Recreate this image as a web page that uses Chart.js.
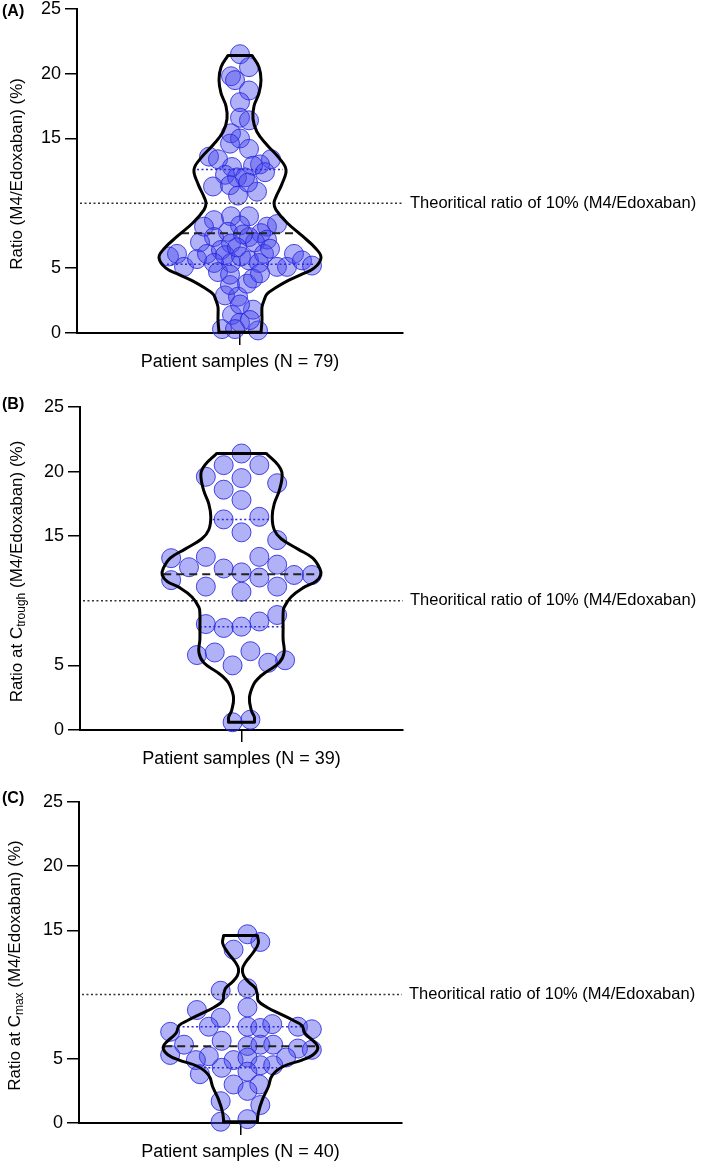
<!DOCTYPE html>
<html>
<head>
<meta charset="utf-8">
<script src="https://cdn.jsdelivr.net/npm/chart.js@4.4.0/dist/chart.umd.min.js"></script>
<style>
  body { margin: 0; background: #fff; overflow: hidden; }
  .panel { position: relative; width: 709px; }
</style>
</head>
<body>
<div class="panel" style="height:386px; margin-top:-6px"><canvas id="chartA"></canvas></div>
<div class="panel" style="height:390px"><canvas id="chartB"></canvas></div>
<div class="panel" style="height:391px"><canvas id="chartC"></canvas></div>
<script>
// shared axis values
const tickValues = [0, 5, 15, 20, 25];
const theoreticalRatio = 10;
const theoreticalLabel = 'Theoritical ratio of 10% (M4/Edoxaban)';

// Panel A - all samples
const labelA = 'Patient samples (N = 79)';
const ratioA = [21.5, 20.5, 19.8, 19.5, 18.7, 17.8, 16.6, 16.4, 15.4, 15.0, 14.2,
  14.6, 13.6, 13.4, 13.4, 13.0, 12.8, 12.9, 12.4, 12.2, 12.0, 12.0, 11.3, 11.4, 10.9, 10.6, 11.6,
  8.7, 9.0, 9.0, 8.2, 8.3, 8.2, 8.4, 7.7, 7.4, 7.4, 7.8, 7.2, 6.9, 7.0, 7.0, 7.6,
  5.9, 6.1, 5.1, 5.7, 6.1, 6.4, 6.0, 5.4, 5.4, 5.9, 5.6, 5.4, 6.1, 5.1, 5.1, 6.1, 5.6, 5.2, 6.6, 6.5,
  2.9, 2.8, 3.7, 3.8, 1.4, 1.8, 0.3, 0.8, 0.2, 1.0, 4.7, 4.5, 4.2, 4.6, 2.2, 0.3];
const jitterA = [0, 9, -9, -5, 9, 0, 0, 9, -9, 0, 9,
  -10, -31, -22, 31, 20, -8, 13, 25, -15, -3, 5, -27, -10, 17, -2, 8,
  -26, -9, 9, -36, 0, 27, 37, 21, 9, -26, -12, 27, -9, 15, -40, 3,
  -71, -63, -56, -43, -33, -19, -15, -9, -26, 1, 9, 19, 24, 37, 47, 54, 62, 72, -3, 30,
  -15, -2, -10, 7, -8, 13, -18, 0, 18, 10, -22, -10, 13, 20, 0, -5];
const violinYA = [21.4, 20.5, 19.5, 18.5, 17.5, 16.5, 15.5, 14.5, 13.5, 12.6, 11.5, 10.5, 10.0, 9.5,
  8.5, 7.5, 6.5, 5.8, 5.0, 4.5, 4.0, 3.5, 3.0, 2.5, 2.0, 1.0, 0.05];
const violinWidthA = [12, 19, 21, 19, 14, 13, 17, 27, 39, 46, 42, 36, 34, 36,
  47, 62, 76, 81, 74, 61, 47, 36, 27, 24, 22, 22, 21];
const quartilesA = [5.3, 7.7, 12.6];
const quartileWidthA = [73, 59, 43];

// Panel B - trough
const labelB = 'Patient samples (N = 39)';
const ratioB = [21.4, 20.5, 20.5, 19.6, 19.5, 19.1, 18.6, 17.8, 16.3, 16.5,
  15.3, 14.7, 13.3, 13.4, 13.4, 12.6, 12.5, 12.8, 12.2, 12.0,
  12.0, 11.6, 11.8, 11.1, 11.1, 10.7, 8.2, 7.9, 8.0, 8.4,
  8.9, 5.8, 6.0, 5.0, 6.1, 5.2, 5.4, 0.6, 0.8];
const jitterB = [0, -18, 18, -36, 0, 36, -18, 0, -18, 18,
  0, 36, -71, -36, 18, -53, -18, 36, 0, 53,
  71, -71, 18, -36, 36, 0, -36, -18, 0, 18,
  36, -45, -27, -9, 9, 27, 44, -9, 9];
const violinYB = [21.4, 20.5, 19.8, 18.5, 17.5, 16.5, 15.5, 14.8, 14.0, 13.3, 12.5, 12.0, 11.5,
  11.0, 10.3, 9.5, 9.0, 8.0, 7.0, 6.0, 5.2, 4.5, 4.0, 3.5, 2.5, 1.5, 1.0, 0.6];
const violinWidthB = [25, 37, 41, 38, 33, 31, 33, 40, 57, 72, 79, 80, 75,
  62, 50, 43, 42, 42, 42, 43, 38, 25, 17, 12, 8, 10, 13, 13];
const quartilesB = [8.0, 12.06, 16.3];
const quartileWidthB = [42, 79, 29];

// Panel C - peak
const labelC = 'Patient samples (N = 40)';
const ratioC = [14.7, 14.1, 13.5, 10.3, 10.5, 8.8, 9.0, 8.2, 7.1, 7.5,
  7.5, 7.4, 7.7, 7.5, 7.3, 6.1, 6.4, 6.0, 6.1, 6.1,
  5.8, 5.7, 5.3, 5.2, 4.9, 5.1, 4.9, 5.1, 4.5, 4.5,
  4.3, 3.8, 4.0, 3.0, 3.0, 2.5, 1.7, 1.4, 0.1, 0.3];
const jitterC = [7, 20, -7, -20, 7, -44, 7, -20, -71, -32,
  7, 20, 32, 58, 72, -57, -19, 7, 20, 33,
  58, 72, -71, -32, -7, 7, -45, 46, 20, 33,
  -19, -41, 7, -7, 19, 7, -20, 20, -20, 7];
const violinYC = [14.6, 14.0, 13.3, 12.5, 12.0, 11.5, 11.0, 10.5, 10.0, 9.5, 9.0, 8.5, 8.0,
  7.6, 7.0, 6.2, 5.8, 5.3, 4.9, 4.4, 3.7, 2.8, 1.8, 0.8, 0.1];
const violinWidthC = [17, 18, 13, 5, 2, 3, 8, 15, 17, 18, 27, 40, 53,
  62, 65, 76, 78, 73, 62, 43, 32, 28, 22, 18, 17];
const quartilesC = [4.3, 5.97, 7.5];
const quartileWidthC = [37, 77, 63];

const FONT = '"Liberation Sans", Arial, Helvetica, sans-serif';

// draws panel letter, rotated y title (with subscript) and the 10% label
const panelText = {
  id: 'panelText',
  afterDraw(chart, args, opts) {
    const ctx = chart.ctx;
    const area = chart.chartArea;
    const ys = chart.scales.y;
    ctx.save();
    ctx.fillStyle = '#000';
    ctx.textBaseline = 'middle';
    ctx.textAlign = 'left';
    ctx.font = 'bold 16px ' + FONT;
    ctx.fillText(opts.letter, 2, opts.letterY);

    ctx.font = '16.5px ' + FONT;
    ctx.fillText(theoreticalLabel, area.right + 7, ys.getPixelForValue(theoreticalRatio));

    // y title
    const big = '17px ' + FONT, small = '12px ' + FONT;
    const parts = [[opts.title[0], big, 0], [opts.title[1], small, 5], [opts.title[2], big, 0]];
    let total = 0;
    parts.forEach(p => { ctx.font = p[1]; p.push(ctx.measureText(p[0]).width); total += p[3]; });
    ctx.translate(opts.titleX, (area.top + area.bottom) / 2 + 3);
    ctx.rotate(-Math.PI / 2);
    let x = -total / 2;
    parts.forEach(p => {
      ctx.font = p[1];
      ctx.fillText(p[0], x, p[2]);
      x += p[3];
    });
    ctx.restore();
  }
};

function makePanel(id, cfg) {
  const xMin = -163, xMax = 163;
  const pts = cfg.ratio.map((v, i) => ({ x: cfg.jitter[i], y: v }));
  const right = cfg.vy.map((y, i) => ({ x: cfg.vw[i], y: y }));
  const left = cfg.vy.map((y, i) => ({ x: -cfg.vw[i], y: y }));
  const n = cfg.vy.length;
  const q = cfg.quart;
  const qw = cfg.quartW;

  const lineDefaults = { showLine: true, pointRadius: 0, fill: false, clip: false };

  new Chart(document.getElementById(id), {
    type: 'scatter',
    data: {
      datasets: [
        Object.assign({ data: right, borderColor: '#000', borderWidth: 3, tension: 0.4 }, lineDefaults),
        Object.assign({ data: left, borderColor: '#000', borderWidth: 3, tension: 0.4 }, lineDefaults),
        Object.assign({ data: [{ x: -cfg.vw[0], y: cfg.vy[0] }, { x: cfg.vw[0], y: cfg.vy[0] }],
          borderColor: '#000', borderWidth: 3, borderCapStyle: 'round' }, lineDefaults),
        Object.assign({ data: [{ x: -cfg.vw[n - 1], y: cfg.vy[n - 1] }, { x: cfg.vw[n - 1], y: cfg.vy[n - 1] }],
          borderColor: '#000', borderWidth: 3, borderCapStyle: 'round' }, lineDefaults),
        // median
        Object.assign({ data: [{ x: -qw[1], y: q[1] }, { x: qw[1], y: q[1] }],
          borderColor: '#222', borderWidth: 2, borderDash: [8, 5] }, lineDefaults),
        // quartiles
        Object.assign({ data: [{ x: -qw[0], y: q[0] }, { x: qw[0], y: q[0] }],
          borderColor: '#2b2bd9', borderWidth: 1.5, borderDash: [2, 2.5] }, lineDefaults),
        Object.assign({ data: [{ x: -qw[2], y: q[2] }, { x: qw[2], y: q[2] }],
          borderColor: '#2b2bd9', borderWidth: 1.5, borderDash: [2, 2.5] }, lineDefaults),
        // theoretical ratio
        Object.assign({ data: [{ x: xMin + 3, y: theoreticalRatio }, { x: xMax, y: theoreticalRatio }],
          borderColor: '#333', borderWidth: 1.5, borderDash: [2, 2.5] }, lineDefaults),
        {
          data: pts,
          pointRadius: 9.5,
          pointBackgroundColor: 'rgba(70, 70, 235, 0.42)',
          pointBorderColor: 'rgba(40, 40, 225, 0.85)',
          pointBorderWidth: 1,
          clip: false
        }
      ]
    },
    options: {
      responsive: true,
      maintainAspectRatio: false,
      animation: false,
      events: [],
      layout: { padding: { left: 0, right: 709 - cfg.right, top: cfg.top, bottom: 0 } },
      plugins: {
        legend: { display: false },
        tooltip: { enabled: false },
        panelText: { letter: cfg.letter, letterY: cfg.letterY, title: cfg.title, titleX: cfg.titleX }
      },
      scales: {
        x: {
          type: 'linear',
          min: xMin,
          max: xMax,
          afterBuildTicks: s => { s.ticks = [{ value: 0 }]; },
          afterFit: s => { s.height = cfg.height - cfg.bottom; },
          ticks: { callback: () => cfg.label, color: '#000', font: { size: 18, family: FONT }, padding: 6, maxRotation: 0 },
          grid: { drawOnChartArea: false, tickLength: 12, color: '#000', lineWidth: 1.5 },
          border: { color: '#000', width: 2 }
        },
        y: {
          min: 0,
          max: 25,
          afterBuildTicks: s => { s.ticks = tickValues.map(v => ({ value: v })); },
          afterFit: s => { s.width = cfg.left; },
          ticks: { color: '#000', font: { size: 18, family: FONT }, padding: 4 },
          grid: { drawOnChartArea: false, tickLength: 12, color: '#000', lineWidth: 1.5 },
          border: { color: '#000', width: 2 }
        }
      }
    },
    plugins: [panelText]
  });
}

window.onload = () => {
  makePanel('chartA', {
    ratio: ratioA, jitter: jitterA, vy: violinYA, vw: violinWidthA, quart: quartilesA, quartW: quartileWidthA,
    label: labelA, letter: '(A)', letterY: 18, title: ['Ratio (M4/Edoxaban) (%)', '', ''], titleX: 17,
    height: 386, left: 77, right: 403, top: 14, bottom: 339
  });
  makePanel('chartB', {
    ratio: ratioB, jitter: jitterB, vy: violinYB, vw: violinWidthB, quart: quartilesB, quartW: quartileWidthB,
    label: labelB, letter: '(B)', letterY: 25, title: ['Ratio at C', 'trough', ' (M4/Edoxaban) (%)'], titleX: 17,
    height: 390, left: 80, right: 403, top: 27, bottom: 350
  });
  makePanel('chartC', {
    ratio: ratioC, jitter: jitterC, vy: violinYC, vw: violinWidthC, quart: quartilesC, quartW: quartileWidthC,
    label: labelC, letter: '(C)', letterY: 29, title: ['Ratio at C', 'max', ' (M4/Edoxaban) (%)'], titleX: 15,
    height: 391, left: 79, right: 402, top: 32, bottom: 353
  });
};
</script>
</body>
</html>
